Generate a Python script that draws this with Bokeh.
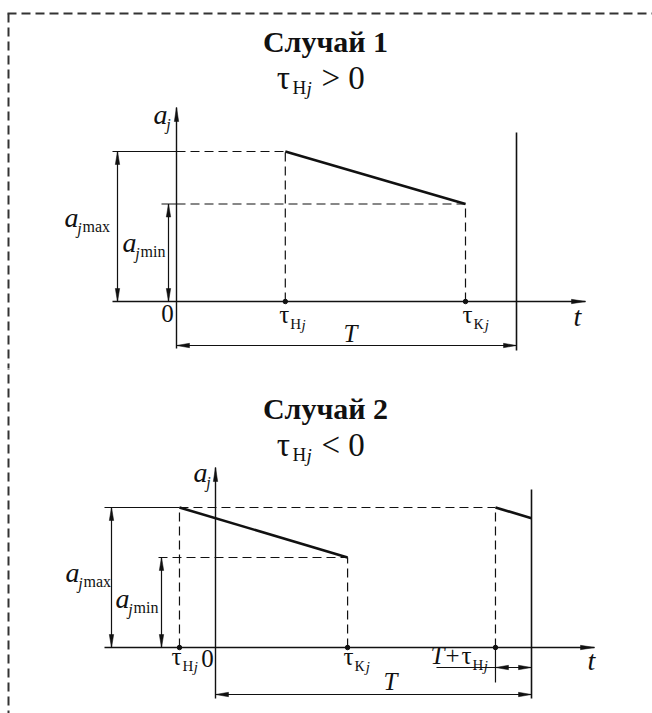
from bokeh.plotting import figure
from bokeh.layouts import column
from bokeh.models import Range1d
from bokeh.core.properties import value
from bokeh.embed import file_html
from bokeh.resources import INLINE

# ---------------- data ----------------
case_titles = ["Случай 1", "Случай 2"]
case_conditions = ["> 0", "< 0"]
# case 1: tau_H > 0
case1_tau = [3.2, 8.5]        # tau_Hj, tau_Kj
case1_a = [1.0, 0.65]         # a_jmax, a_jmin
case1_T = 10.0
# case 2: tau_H < 0
case2_tau = [-1.14, 4.18]     # tau_Hj, tau_Kj
case2_a = [1.0, 0.643]        # a_jmax, a_jmin
case2_T = 10.0

SERIF = value("Liberation Serif")
INK = "#111111"
PAGE_W = 652


class Geo:
    """Maps page pixels of the drawing to data units of one panel."""
    def __init__(self, top, height, ox, oy, sx, sy):
        self.top, self.h, self.ox, self.oy, self.sx, self.sy = top, height, ox, oy, sx, sy

    def X(self, px):
        return (px - self.ox) / self.sx

    def Y(self, py):
        return (self.oy - py) / self.sy


def make_fig(g):
    p = figure(width=PAGE_W, height=g.h, output_backend="svg", toolbar_location=None,
               x_axis_type=None, y_axis_type=None, min_border=0,
               x_range=Range1d(g.X(0), g.X(PAGE_W)), y_range=Range1d(g.Y(g.top + g.h), g.Y(g.top)))
    p.grid.visible = False
    p.outline_line_color = None
    p.background_fill_color = "white"
    p.border_fill_color = "white"
    return p


def seg(p, x0, y0, x1, y1, w=1.2, dash="solid", color=INK):
    p.line([x0, x1], [y0, y1], line_width=w, line_dash=dash, line_color=color)


def head(p, g, x, y, d, L=13, hw=2.2):
    ux, uy = {"right": (1, 0), "left": (-1, 0), "up": (0, -1), "down": (0, 1)}[d]
    nx, ny = -uy, ux
    pts = [(0, 0), (-L * ux + hw * nx, -L * uy + hw * ny), (-L * ux - hw * nx, -L * uy - hw * ny)]
    xs = [x + px / g.sx for px, py in pts]
    ys = [y - py / g.sy for px, py in pts]
    p.patch(xs, ys, fill_color=INK, line_color=INK, line_width=0.5)


def dim_h(p, g, x0, x1, y):
    seg(p, x0, y, x1, y, w=1.2)
    head(p, g, x0, y, "left")
    head(p, g, x1, y, "right")


def dim_v(p, g, x, y0, y1):
    seg(p, x, y0, x, y1, w=1.2)
    head(p, g, x, y0, "down")
    head(p, g, x, y1, "up")


def txt(p, g, x, y, text, size, style="normal", align="center", baseline="middle", dx=0, dy=0):
    p.text(x=[x + dx / g.sx], y=[y - dy / g.sy], text=[text], text_font=SERIF,
           text_font_size=f"{size}px", text_font_style=style, text_align=align,
           text_baseline=baseline, text_color=INK)


def sym(p, g, x, y, main, sub1, sub2, dx, dy, size=25, sub=15):
    """main glyph with a two-part subscript (upright + italic)."""
    txt(p, g, x, y, main, size, "normal", "center", "middle", dx, dy)
    txt(p, g, x, y, sub1, sub, "normal", "left", "middle", dx + 6, dy + 9)
    txt(p, g, x, y, sub2, sub, "italic", "left", "middle", dx + 6 + 0.75 * sub, dy + 10)


def a_label(p, g, x, y, word, dx, dy):
    txt(p, g, x, y, "a", 28, "italic", "center", "middle", dx, dy)
    txt(p, g, x, y, "j", 16, "italic", "center", "middle", dx + 8, dy + 11)
    txt(p, g, x, y, word, 16, "normal", "left", "middle", dx + 11, dy + 9)


def header(p, g, title, cond, ty):
    cx = g.X(325)
    txt(p, g, cx, g.Y(ty), title, 30, "bold", "center", "middle")
    yy = g.Y(ty + 36)
    txt(p, g, g.X(283), yy, "τ", 33, "normal", "center", "middle")
    txt(p, g, g.X(292), yy, "Н", 19, "normal", "left", "middle", 0, 10)
    txt(p, g, g.X(306), yy, "j", 19, "italic", "left", "middle", 0, 11)
    txt(p, g, g.X(321), yy, cond, 33, "normal", "left", "middle")


# ---------------- case 1 ----------------
g1 = Geo(top=0, height=368, ox=176, oy=301, sx=34.0, sy=150.0)
p1 = make_fig(g1)
tH, tK = case1_tau
amax, amin = case1_a
T = case1_T

# frame (dashed border)
seg(p1, g1.X(7), g1.Y(13), g1.X(670), g1.Y(13), w=2, dash="9 5", color="#333333")
seg(p1, g1.X(8), g1.Y(13), g1.X(8), g1.Y(400), w=2, dash="9 5", color="#333333")

header(p1, g1, case_titles[0], case_conditions[0], 41)

# axes
seg(p1, g1.X(112), 0, g1.X(585), 0, w=1.6)
head(p1, g1, g1.X(585), 0, "right", L=14)
seg(p1, 0, g1.Y(348), 0, g1.Y(107), w=1.4)
head(p1, g1, 0, g1.Y(107), "up", L=14)

# levels
seg(p1, g1.X(112), amax, 0, amax, w=1.2)
seg(p1, 0, amax, tH, amax, w=1.2, dash="9 5")
seg(p1, g1.X(161), amin, 0, amin, w=1.2)
seg(p1, 0, amin, tK, amin, w=1.2, dash="9 5")
seg(p1, tH, 0, tH, amax, w=1.2, dash="9 5")
seg(p1, tK, 0, tK, amin, w=1.2, dash="9 5")
# acceleration
p1.line([tH, tK], [amax, amin], line_width=2.6, line_color=INK)
# period line
seg(p1, T, g1.Y(350), T, g1.Y(132), w=1.6)
# dimensions
dim_h(p1, g1, 0, T, g1.Y(345))
dim_v(p1, g1, g1.X(117), 0, amax)
dim_v(p1, g1, g1.X(168), 0, amin)
p1.scatter([tH, tK], [0, 0], size=4.5, color=INK)

# labels
txt(p1, g1, 0, g1.Y(107), "a", 28, "italic", "center", "middle", -16, 7)
txt(p1, g1, 0, g1.Y(107), "j", 16, "italic", "center", "middle", -8, 17)
txt(p1, g1, g1.X(585), 0, "t", 28, "italic", "center", "middle", -8, 15)
txt(p1, g1, 0, 0, "0", 25, "normal", "center", "middle", -9, 12)
sym(p1, g1, tH, 0, "τ", "Н", "j", -1, 13)
sym(p1, g1, tK, 0, "τ", "К", "j", 2, 13)
txt(p1, g1, T / 2, g1.Y(345), "T", 25, "italic", "center", "middle", 4, -12)
a_label(p1, g1, g1.X(117), amax / 2, "max", -46, -9)
a_label(p1, g1, g1.X(168), amin / 2, "min", -39, -10)

# ---------------- case 2 ----------------
g2 = Geo(top=368, height=345, ox=215, oy=647, sx=31.6, sy=140.0)
p2 = make_fig(g2)
tH, tK = case2_tau
amax, amin = case2_a
T = case2_T
tN = T + tH                      # start of the next cycle
slope = (amax - amin) / (tK - tH)
aT = amax - slope * (T - tN)

seg(p2, g2.X(8), g2.Y(360), g2.X(8), g2.Y(720), w=2, dash="9 5", color="#333333")

header(p2, g2, case_titles[1], case_conditions[1], 408)

seg(p2, g2.X(104), 0, g2.X(594), 0, w=1.6)
head(p2, g2, g2.X(594), 0, "right", L=14)
seg(p2, 0, g2.Y(698), 0, g2.Y(467), w=1.4)
head(p2, g2, 0, g2.Y(467), "up", L=14)

seg(p2, g2.X(104), amax, tH, amax, w=1.2)
seg(p2, tH, amax, tN, amax, w=1.2, dash="9 5")
seg(p2, g2.X(158), amin, tK, amin, w=1.2, dash="9 5")
seg(p2, tH, 0, tH, amax, w=1.2, dash="9 5")
seg(p2, tK, 0, tK, amin, w=1.2, dash="9 5")
seg(p2, tN, 0, tN, amax, w=1.2, dash="9 5")
seg(p2, tN, 0, tN, g2.Y(682), w=1.2)
p2.line([tH, tK], [amax, amin], line_width=2.6, line_color=INK)
p2.line([tN, T], [amax, aT], line_width=2.6, line_color=INK)
seg(p2, T, g2.Y(698), T, g2.Y(489), w=1.6)

dim_h(p2, g2, 0, T, g2.Y(694))
seg(p2, g2.X(436), g2.Y(667), tN, g2.Y(667), w=1.2)
dim_h(p2, g2, tN, T, g2.Y(667))
dim_v(p2, g2, g2.X(111), 0, amax)
dim_v(p2, g2, g2.X(161), 0, amin)
p2.scatter([tH, tK, tN], [0, 0, 0], size=4.5, color=INK)

txt(p2, g2, 0, g2.Y(467), "a", 28, "italic", "center", "middle", -15, 5)
txt(p2, g2, 0, g2.Y(467), "j", 16, "italic", "center", "middle", -7, 15)
txt(p2, g2, g2.X(594), 0, "t", 28, "italic", "center", "middle", -3, 13)
txt(p2, g2, 0, 0, "0", 25, "normal", "center", "middle", -8, 11)
sym(p2, g2, tH, 0, "τ", "Н", "j", -3, 9)
sym(p2, g2, tK, 0, "τ", "К", "j", 1, 9)
txt(p2, g2, T / 2, g2.Y(694), "T", 25, "italic", "center", "middle", 17, -13)
txt(p2, g2, tN, 0, "T", 25, "italic", "center", "middle", -58, 8)
txt(p2, g2, tN, 0, "+", 25, "normal", "center", "middle", -43, 8)
sym(p2, g2, tN, 0, "τ", "Н", "j", -29, 8)
a_label(p2, g2, g2.X(111), amax / 2, "max", -39, -5)
a_label(p2, g2, g2.X(161), amin / 2, "min", -39, -4)

layout = column(p1, p2, spacing=0)
open("out.html", "w").write(file_html(layout, INLINE))
